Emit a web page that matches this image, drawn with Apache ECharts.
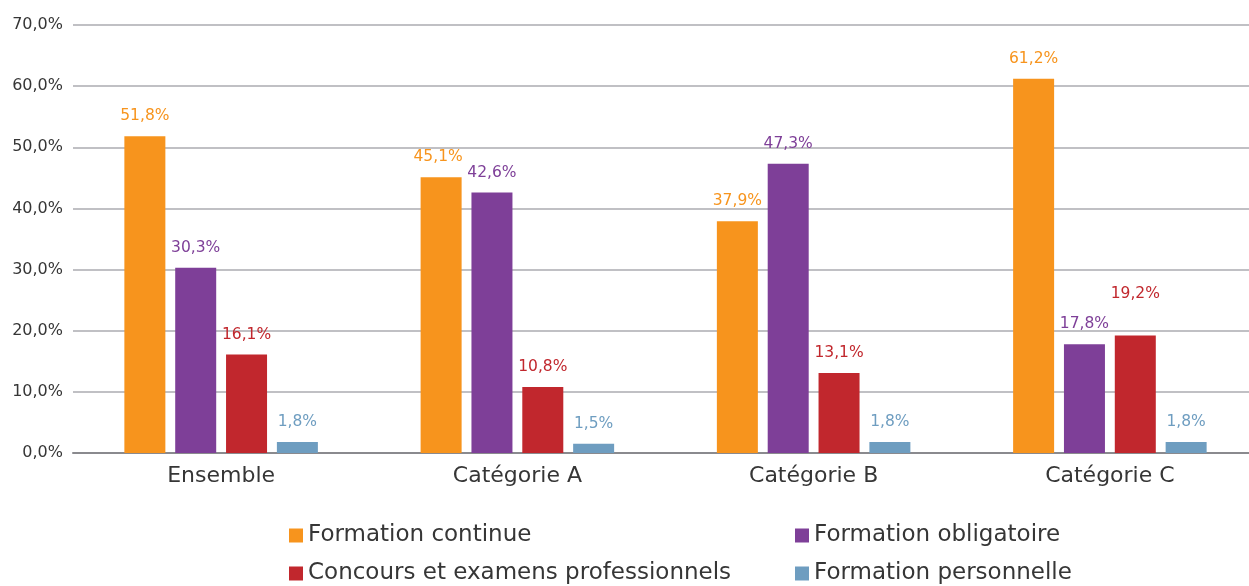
<!DOCTYPE html>
<html>
<head>
<meta charset="utf-8">
<script src="https://cdn.jsdelivr.net/npm/echarts@6/dist/echarts.min.js"></script>
<style>
  html, body { margin: 0; padding: 0; background: #fff; overflow: hidden; width: 1249px; height: 586px; }
  #chart { width: 1258px; height: 586px; }
</style>
</head>
<body>
<div id="chart"></div>
<script>
// Catégories et valeurs (en %)
const categories = ['Ensemble', 'Catégorie A', 'Catégorie B', 'Catégorie C'];
const seriesNames = ['Formation continue', 'Formation obligatoire', 'Concours et examens professionnels', 'Formation personnelle'];
const formationContinue = [51.8, 45.1, 37.9, 61.2];
const formationObligatoire = [30.3, 42.6, 47.3, 17.8];
const concours = [16.1, 10.8, 13.1, 19.2];
const formationPersonnelle = [1.8, 1.5, 1.8, 1.8];

const colors = ['#F7941D', '#7E3F98', '#C1272D', '#6E9DC0'];
const FONT = '"DejaVu Sans", sans-serif';

// Décalages ponctuels d'étiquettes pour éviter les chevauchements
const labelShift = { '2-3': [0, -22], '0-1': [-3, 0] };

const fmt = v => v.toFixed(1).replace('.', ',') + '%';

function makeSeries(name, values, idx) {
  return {
    name: name,
    type: 'bar',
    barWidth: 41,
    barGap: '24%',
    itemStyle: { color: colors[idx] },
    data: values.map((v, ci) => {
      const item = { value: v };
      const shift = labelShift[idx + '-' + ci];
      if (shift) item.label = { offset: shift };
      return item;
    }),
    label: {
      show: true,
      position: 'top',
      distance: 12,
      color: colors[idx],
      fontFamily: FONT,
      fontSize: 15.5,
      formatter: p => fmt(p.value)
    }
  };
}

// Légende sur deux lignes et deux colonnes : une entrée par légende
const legendPos = [[289, 524], [795, 524], [289, 562], [795, 562]];
const legends = seriesNames.map((n, i) => ({
  data: [n],
  left: legendPos[i][0], top: legendPos[i][1],
  itemWidth: 14, itemHeight: 14, icon: 'rect', padding: 0,
  textStyle: { fontSize: 23, color: '#363636', fontFamily: FONT }
}));

const chart = echarts.init(document.getElementById('chart'));
chart.setOption({
  animation: false,
  textStyle: { fontFamily: FONT },
  grid: { left: 73, right: 0, top: 25, bottom: 133 },
  legend: legends,
  xAxis: {
    type: 'category',
    data: categories,
    axisLine: { lineStyle: { color: '#8a8a8e', width: 2 } },
    axisTick: { show: false },
    axisLabel: { color: '#363636', fontSize: 22, margin: 12, fontFamily: FONT }
  },
  yAxis: {
    type: 'value',
    min: 0, max: 70, interval: 10,
    axisLine: { show: false },
    axisTick: { show: false },
    splitLine: { lineStyle: { color: '#c0c0c4', width: 2 } },
    axisLabel: { color: '#363636', fontSize: 16, margin: 10, fontFamily: FONT, formatter: v => fmt(v) }
  },
  series: [
    makeSeries(seriesNames[0], formationContinue, 0),
    makeSeries(seriesNames[1], formationObligatoire, 1),
    makeSeries(seriesNames[2], concours, 2),
    makeSeries(seriesNames[3], formationPersonnelle, 3)
  ]
});
</script>
</body>
</html>
